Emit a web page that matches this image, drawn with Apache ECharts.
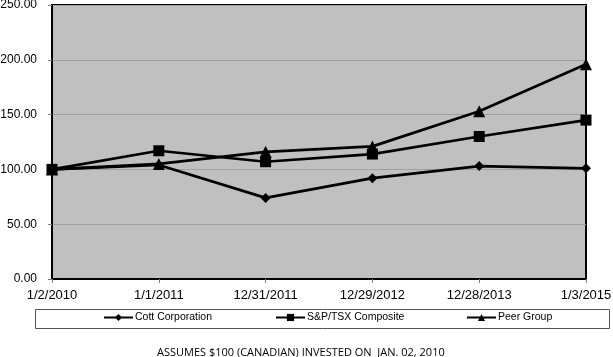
<!DOCTYPE html>
<html><head><meta charset="utf-8">
<script src="https://cdn.jsdelivr.net/npm/echarts@6/dist/echarts.min.js"></script>
<style>html,body{margin:0;padding:0;background:#fff}#c{width:613px;height:357px}</style>
</head><body><div id="c"></div>
<script>
const categories = ['1/2/2010','1/1/2011','12/31/2011','12/29/2012','12/28/2013','1/3/2015'];
const cott = [100, 104, 74, 92, 103, 101];
const sptsx = [100, 117, 107, 114, 130, 145];
const peer = [100, 105, 116, 121, 153, 196];
const yTicks = [0, 50, 100, 150, 200, 250];
const seriesNames = ['Cott Corporation','S&P/TSX Composite','Peer Group'];

const chart = echarts.init(document.getElementById('c'));
const lineStyle = {color:'#000', width:2.7};
function mk(name, data, sym, size){
  return {name, type:'line', data, symbol:sym, symbolSize:size, showSymbol:true,
    lineStyle, itemStyle:{color:'#000'}, animation:false};
}
function lg(name, left){
  return {left, top:312, padding:0, itemWidth:29, itemHeight:9, itemGap:2,
    textStyle:{color:'#000', fontSize:10.5, padding:[0,0,0,-3], fontFamily:'Liberation Sans, Arial, sans-serif'},
    data:[name]};
}
chart.setOption({
  animation:false,
  textStyle:{fontFamily:'Liberation Sans, Arial, sans-serif'},
  grid:{left:52, right:27, top:5, bottom:78, containLabel:false, outerBoundsMode:'none',
    show:true, backgroundColor:'#c0c0c0', borderColor:'#000', borderWidth:2},
  xAxis:{type:'category', data:categories, boundaryGap:false,
    axisLine:{lineStyle:{color:'#000', width:2}},
    axisTick:{show:true, length:4, lineStyle:{color:'#808080'}},
    axisLabel:{color:'#000', fontSize:13, margin:10, showMinLabel:true, showMaxLabel:true, interval:0,
      hideOverlap:false, alignMinLabel:'center', alignMaxLabel:'center'},
    splitLine:{show:false}},
  yAxis:{type:'value', min:yTicks[0], max:yTicks[yTicks.length-1], interval:50,
    axisLine:{show:true, lineStyle:{color:'#000', width:2}},
    axisTick:{show:true, length:4, lineStyle:{color:'#808080'}},
    axisLabel:{color:'#000', fontSize:12, margin:15, formatter:v=>v.toFixed(2)},
    splitLine:{show:true, lineStyle:{color:'#a0a0a0', width:1}}},
  legend:[lg(seriesNames[0],103), lg(seriesNames[1],275), lg(seriesNames[2],466)],
  graphic:[{type:'rect', shape:{x:35.5, y:309.5, width:574, height:19},
    style:{fill:null, stroke:'#555', lineWidth:1}, z:-1}],
  title:{text:'ASSUMES $100 (CANADIAN) INVESTED ON  JAN. 02, 2010', left:152, top:342,
    textStyle:{fontSize:11, fontWeight:'normal', color:'#000', fontFamily:'Open Sans, Liberation Sans, sans-serif'}},
  series:[
    mk(seriesNames[0], cott, 'diamond', 10),
    mk(seriesNames[1], sptsx, 'rect', 11),
    mk(seriesNames[2], peer, 'triangle', 12)
  ]
});
</script></body></html>
